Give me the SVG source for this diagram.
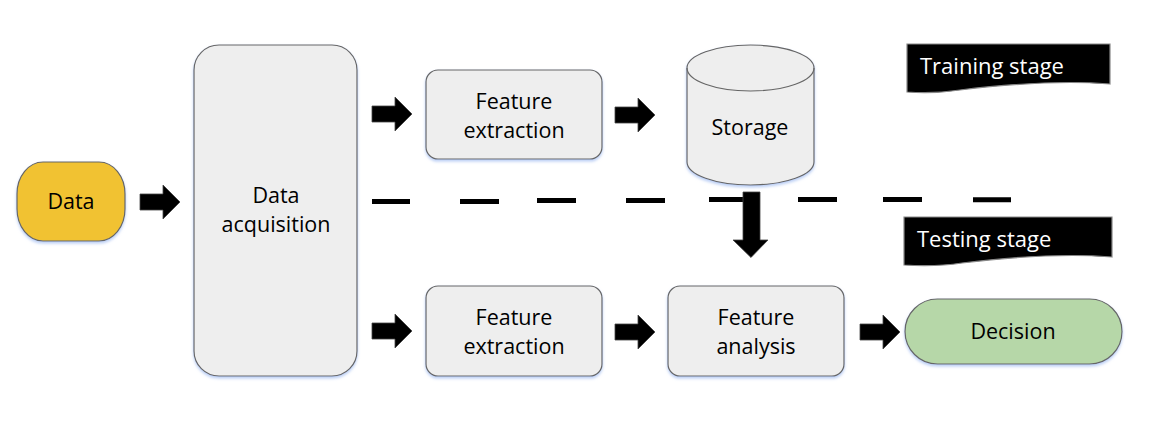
<svg xmlns="http://www.w3.org/2000/svg" width="1157" height="431" viewBox="0 0 1157 431">
<defs>
<filter id="sh" x="-10%" y="-10%" width="120%" height="120%">
<feDropShadow dx="0" dy="2" stdDeviation="1.5" flood-color="#9bb8f0" flood-opacity="0.7"/>
</filter>
<path id="ar" d="M0,-8 L23,-8 L23,-17 L40,0 L23,17 L23,8 L0,8 Z"/>
</defs>
<style>
.box{fill:#eeeeee;stroke:#666666;stroke-width:1.2;filter:url(#sh)}
.t{font-family:"Open Sans","Noto Sans",sans-serif;font-size:21.5px;fill:#000;text-anchor:middle}
.lbl{font-family:"Open Sans","Noto Sans",sans-serif;font-size:22px;fill:#fff}
.arr{fill:#000;stroke:#444;stroke-width:0.8}
.stage{fill:#000;stroke:#888;stroke-width:1.2}
.dash{stroke:#000;stroke-width:5}
</style>
<rect width="1157" height="431" fill="#ffffff"/>
<g id="connectors">
<line class="dash" x1="372" y1="201.5" x2="410" y2="201.5"/>
<line class="dash" x1="460" y1="201.5" x2="499" y2="201.5"/>
<line class="dash" x1="537" y1="200.5" x2="576" y2="200.5"/>
<line class="dash" x1="626" y1="200.5" x2="665" y2="200.5"/>
<line class="dash" x1="709" y1="199.5" x2="745" y2="199.5"/>
<line class="dash" x1="798" y1="199.5" x2="837" y2="199.5"/>
<line class="dash" x1="883" y1="199.5" x2="922" y2="199.5"/>
<line class="dash" x1="973" y1="199.7" x2="1011" y2="199.7"/>
<use href="#ar" class="arr" transform="translate(140,202)"/>
<use href="#ar" class="arr" transform="translate(372,114)"/>
<use href="#ar" class="arr" transform="translate(615,115)"/>
<use href="#ar" class="arr" transform="translate(372,331)"/>
<use href="#ar" class="arr" transform="translate(615,332)"/>
<use href="#ar" class="arr" transform="translate(860,332)"/>
<path class="arr" d="M743,192 L760,192 L760,240 L768,240 L751,257.5 L733,240 L743,240 Z"/>
</g>
<g id="data">
<rect x="17" y="162" width="108" height="79" rx="26" ry="32" fill="#f1c232" stroke="#666666" stroke-width="1.2" filter="url(#sh)"/>
<text class="t" x="71" y="209">Data</text>
</g>
<g id="acquisition">
<rect class="box" x="194" y="45" width="163" height="331" rx="25"/>
<text class="t" x="276" y="203">Data</text>
<text class="t" x="276" y="232">acquisition</text>
</g>
<g id="fe-top">
<rect class="box" x="426" y="70" width="176" height="89" rx="12"/>
<text class="t" x="514" y="109">Feature</text>
<text class="t" x="514" y="138">extraction</text>
</g>
<g id="storage">
<path class="box" d="M687,68 A63.5,23 0 0 1 814,68 L814,162 A63.5,23 0 0 1 687,162 Z"/>
<path d="M687,68 A63.5,23 0 0 0 814,68" fill="none" stroke="#666666" stroke-width="1.2"/>
<text class="t" x="750" y="135">Storage</text>
</g>
<g id="training">
<path class="stage" d="M907,44 L1110,44 L1110,84 C1060,80 1010,84 960,90 C940,93 920,93 907,92 Z"/>
<text class="lbl" x="920" y="74">Training stage</text>
</g>
<g id="testing">
<path class="stage" d="M904,217 L1112,217 L1112,257 C1062,253 1012,257 962,263 C942,266 922,266 904,265 Z"/>
<text class="lbl" x="917" y="247">Testing stage</text>
</g>
<g id="fe-bottom">
<rect class="box" x="426" y="286" width="176" height="90" rx="12"/>
<text class="t" x="514" y="325">Feature</text>
<text class="t" x="514" y="354">extraction</text>
</g>
<g id="analysis">
<rect class="box" x="668" y="286" width="176" height="90" rx="12"/>
<text class="t" x="756" y="325">Feature</text>
<text class="t" x="756" y="354">analysis</text>
</g>
<g id="decision">
<rect x="905" y="299" width="217" height="65" rx="32.5" fill="#b6d7a8" stroke="#666666" stroke-width="1.2" filter="url(#sh)"/>
<text class="t" x="1013" y="339">Decision</text>
</g>
</svg>
